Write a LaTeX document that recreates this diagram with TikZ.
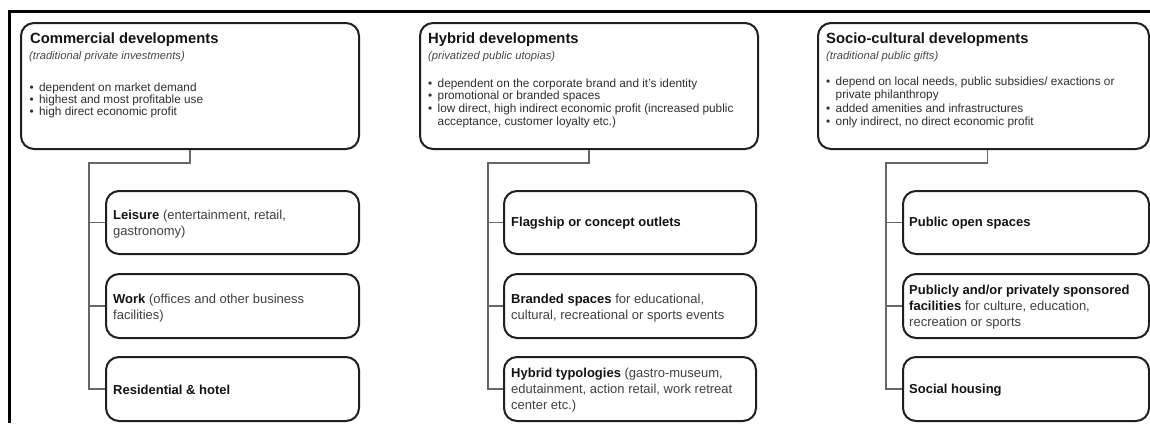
\documentclass[tikz,border=0pt]{standalone}
\usepackage{fontspec}
\setmainfont{Liberation Sans}
\begin{document}
\begin{tikzpicture}[x=1pt,y=-1pt,
  frameline/.style={line width=3pt, draw=black},
  box/.style={draw=black!88, line width=2pt, rounded corners=13pt, fill=white, anchor=north west, inner sep=0pt},
  conn/.style={draw=black!60, line width=1.5pt},
  ttl/.style={anchor=base west, inner sep=0pt, font=\fontsize{14.8}{16}\selectfont\bfseries, text=black!92},
  sub/.style={anchor=base west, inner sep=0pt, font=\fontsize{11.2}{12}\selectfont\itshape, text=black!72},
  bl/.style={anchor=base west, inner sep=0pt, font=\fontsize{11.8}{12.5}\selectfont, text=black!82},
  ct/.style={anchor=west, inner sep=0pt, align=left, font=\fontsize{13}{16}\selectfont, text=black!75},
]
\newcommand{\bul}{\makebox[9.5pt][l]{•}}
\newcommand{\nob}{\hspace*{9.5pt}}
\newcommand{\bt}[1]{\textcolor{black!92}{\bfseries #1}}
\useasboundingbox (0,0) rectangle (1150,423);
\draw[frameline] (9.5,423) -- (9.5,11.5) -- (1150,11.5);

% ---------- Commercial ----------
\node[box, minimum width=338pt, minimum height=126pt] (com) at (20,22) {};
\node[ttl] (comT) at (30,43) {Commercial developments};
\node[sub] (comS) at (29,59) {(traditional private investments)};
\node[bl] (comB1) at (29.5,91) {\bul dependent on market demand};
\node[bl] (comB2) at (29.5,103) {\bul highest and most profitable use};
\node[bl] (comB3) at (29.5,115) {\bul high direct economic profit};

\node[box, minimum width=253pt, minimum height=63pt] (com1) at (105,190) {};
\node[box, minimum width=253pt, minimum height=64pt] (com2) at (105,273) {};
\node[box, minimum width=253pt, minimum height=64pt] (com3) at (105,356) {};
\node[ct] (com1t) at ([xshift=8pt,yshift=-2pt]com1.west) {\bt{Leisure} (entertainment, retail,\\gastronomy)};
\node[ct] (com2t) at ([xshift=8pt,yshift=-2pt]com2.west) {\bt{Work} (offices and other business\\facilities)};
\node[ct] (com3t) at ([xshift=8pt,yshift=-1pt]com3.west) {\bt{Residential \& hotel}};
\coordinate (comJ) at (89,163);
\draw[conn] (com.south) |- (comJ) |- (com3.west);
\draw[conn] (comJ |- com1.west) -- (com1.west);
\draw[conn] (comJ |- com2.west) -- (com2.west);

% ---------- Hybrid ----------
\node[box, minimum width=338pt, minimum height=126pt] (hyb) at (419,22) {};
\node[ttl] (hybT) at (428,43) {Hybrid developments};
\node[sub] (hybS) at (428,59) {(privatized public utopias)};
\node[bl] (hybB1) at (428,87) {\bul dependent on the corporate brand and it’s identity};
\node[bl] (hybB2) at (428,99.5) {\bul promotional or branded spaces};
\node[bl] (hybB3) at (428,112.5) {\bul low direct, high indirect economic profit (increased public};
\node[bl] (hybB4) at (428,125) {\nob acceptance, customer loyalty etc.)};

\node[box, minimum width=252pt, minimum height=63pt] (hyb1) at (503,190) {};
\node[box, minimum width=252pt, minimum height=64pt] (hyb2) at (503,273) {};
\node[box, minimum width=252pt, minimum height=64pt] (hyb3) at (503,356) {};
\node[ct] (hyb1t) at ([xshift=8pt,yshift=-1pt]hyb1.west) {\bt{Flagship or concept outlets}};
\node[ct] (hyb2t) at ([xshift=8pt,yshift=-2pt]hyb2.west) {\bt{Branded spaces} for educational,\\cultural, recreational or sports events};
\node[ct] (hyb3t) at ([xshift=8pt,yshift=-1pt]hyb3.west) {\bt{Hybrid typologies} (gastro-museum,\\edutainment, action retail, work retreat\\center etc.)};
\coordinate (hybJ) at (488,163);
\draw[conn] (hyb.south) |- (hybJ) |- (hyb3.west);
\draw[conn] (hybJ |- hyb1.west) -- (hyb1.west);
\draw[conn] (hybJ |- hyb2.west) -- (hyb2.west);

% ---------- Socio-cultural ----------
\node[box, minimum width=331pt, minimum height=126pt] (soc) at (817,22) {};
\node[ttl] (socT) at (826,43) {Socio-cultural developments};
\node[sub] (socS) at (826,59) {(traditional public gifts)};
\node[bl] (socB1) at (826,85.5) {\bul depend on local needs, public subsidies/ exactions or};
\node[bl] (socB2) at (826,98) {\nob private philanthropy};
\node[bl] (socB3) at (826,112) {\bul added amenities and infrastructures};
\node[bl] (socB4) at (826,125.5) {\bul only indirect, no direct economic profit};

\node[box, minimum width=246pt, minimum height=63pt] (soc1) at (902,190) {};
\node[box, minimum width=246pt, minimum height=64pt] (soc2) at (902,273) {};
\node[box, minimum width=246pt, minimum height=64pt] (soc3) at (902,356) {};
\node[ct] (soc1t) at ([xshift=7pt,yshift=-1pt]soc1.west) {\bt{Public open spaces}};
\node[ct] (soc2t) at ([xshift=7pt,yshift=-1pt]soc2.west) {\bt{Publicly and/or privately sponsored}\\\bt{facilities} for culture, education,\\recreation or sports};
\node[ct] (soc3t) at ([xshift=7pt,yshift=-1pt]soc3.west) {\bt{Social housing}};
\coordinate (socJ) at (886,163);
\draw[conn] ([xshift=4pt]soc.south) |- (socJ) |- (soc3.west);
\draw[conn] (socJ |- soc1.west) -- (soc1.west);
\draw[conn] (socJ |- soc2.west) -- (soc2.west);
\end{tikzpicture}
\end{document}
